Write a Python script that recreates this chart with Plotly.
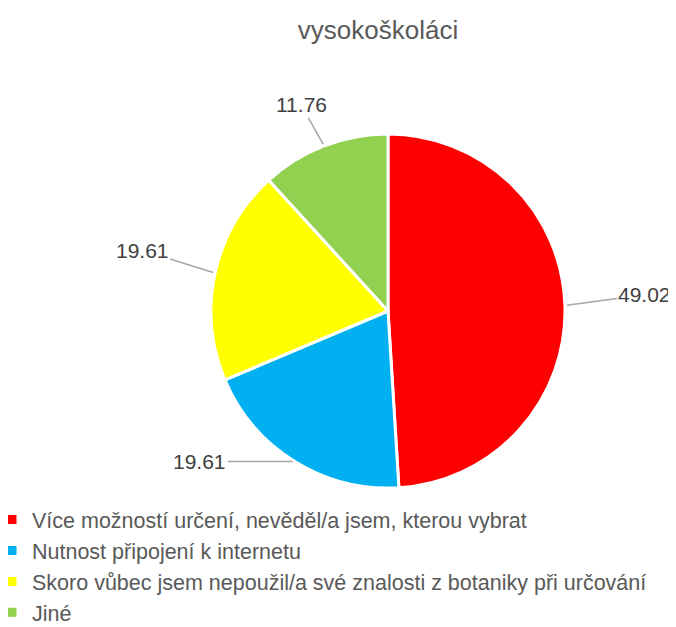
import math
import plotly.graph_objects as go

categories = [
    "Více možností určení, nevěděl/a jsem, kterou vybrat",
    "Nutnost připojení k internetu",
    "Skoro vůbec jsem nepoužil/a své znalosti z botaniky při určování",
    "Jiné",
]
values = [49.02, 19.61, 19.61, 11.76]
value_labels = ["49.02", "19.61", "19.61", "11.76"]
colors = ["#FF0000", "#00B0F0", "#FFFF00", "#92D050"]

# figure size (page has an 8px body margin, so fit inside the 676x627 window)
W, H = 668, 619
# layout geometry (figure pixel coordinates)
cx_px, cy_px, r_px = 380, 303, 177
# label placement: offset (px) of each label centre from its slice's edge point
label_offsets = [(80, -11), (-95, 0), (-73, -23), (-23, -41)]

fig = go.Figure()
fig.add_trace(go.Pie(
    labels=categories,
    values=values,
    sort=False,
    direction="clockwise",
    rotation=0,
    textinfo="none",
    hoverinfo="label+value",
    marker=dict(colors=colors, line=dict(color="white", width=3)),
    domain=dict(x=[(cx_px - r_px) / W, (cx_px + r_px) / W],
                y=[(H - cy_px - r_px) / H, (H - cy_px + r_px) / H]),
))

# data labels with leader lines, anchored at the slice mid-angles
total = sum(values)
cum = 0.0
for i, (v, txt) in enumerate(zip(values, value_labels)):
    mid = (cum + v / 2) / total * 2 * math.pi
    cum += v
    ex = cx_px + r_px * math.sin(mid)
    ey = cy_px - r_px * math.cos(mid)
    dx, dy = label_offsets[i]
    fig.add_annotation(
        x=ex / W, y=1 - ey / H, xref="paper", yref="paper",
        text=txt, showarrow=True, arrowhead=0, arrowwidth=1.5,
        arrowcolor="#A6A6A6", standoff=2,
        ax=dx, ay=dy,
        font=dict(family="Liberation Sans", size=21, color="#404040"),
    )

fig.update_layout(
    width=W, height=H,
    margin=dict(l=0, r=0, t=0, b=0, autoexpand=False),
    paper_bgcolor="white", plot_bgcolor="white",
    title=dict(text="vysokoškoláci", x=370 / W, xanchor="center",
               y=1 - 22 / H, yanchor="middle",
               font=dict(family="Liberation Sans", size=26, color="#595959")),
    showlegend=True,
    legend=dict(x=-16 / W, y=1 - 491 / H, xanchor="left", yanchor="top",
                font=dict(family="Liberation Sans", size=21.5, color="#595959"),
                itemwidth=30, tracegroupgap=0),
)

fig.write_html("out.html")
